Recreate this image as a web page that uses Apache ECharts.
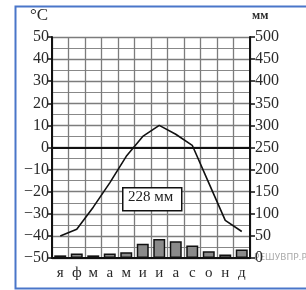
<!DOCTYPE html>
<html><head><meta charset="utf-8">
<script src="https://cdn.jsdelivr.net/npm/echarts@6/dist/echarts.min.js"></script>
<style>html,body{margin:0;padding:0;background:#fff}#c{width:306px;height:290px}</style>
</head><body><div id="c"></div>
<script>
const months = ['я','ф','м','а','м','и','и','а','с','о','н','д'];
const temperature = [-40, -37, -27, -16, -4, 5, 10, 6, 1, -16, -33, -38];
const precipitation = [6, 10, 6, 10, 13, 32, 43, 38, 28, 15, 8, 19];
const tempTicks = {min: -50, max: 50, step: 10};
const precTicks = {min: 0, max: 500, step: 50};
const totalLabel = '228 мм';

const serif = '"Liberation Serif", "DejaVu Serif", serif';
const chart = echarts.init(document.getElementById('c'), null, {renderer: 'canvas'});
chart.setOption({
  animation: false,
  backgroundColor: '#fff',
  grid: {left: 52, right: 56, top: 37, bottom: 32, containLabel: false},
  xAxis: {
    type: 'category', data: months, boundaryGap: true,
    axisLine: {show: true, onZero: false, lineStyle: {color: '#111', width: 2}},
    axisTick: {show: false},
    axisLabel: {fontFamily: serif, fontSize: 15, color: '#2a2a2a', margin: 8, interval: 0},
    splitLine: {show: true, interval: 0, lineStyle: {color: '#7c7c7c', width: 1.3}}
  },
  yAxis: [{
    type: 'value', min: tempTicks.min, max: tempTicks.max, interval: tempTicks.step,
    position: 'left',
    axisLine: {show: true, lineStyle: {color: '#111', width: 2}},
    axisTick: {show: true, length: 5, lineStyle: {color: '#111', width: 1.5}},
    axisLabel: {fontFamily: serif, fontSize: 16, color: '#2a2a2a', margin: 3,
      formatter: v => String(v).replace('-', '−')},
    splitLine: {show: true, lineStyle: {color: '#7c7c7c', width: 1.3}},
    minorTick: {show: false, splitNumber: 2},
    minorSplitLine: {show: true, lineStyle: {color: '#888', width: 1.2}}
  }, {
    type: 'value', min: precTicks.min, max: precTicks.max, interval: precTicks.step,
    position: 'right',
    axisLine: {show: true, lineStyle: {color: '#111', width: 2}},
    axisTick: {show: true, length: 5, lineStyle: {color: '#111', width: 1.5}},
    axisLabel: {fontFamily: serif, fontSize: 16, color: '#2a2a2a', margin: 5},
    splitLine: {show: false}
  }],
  series: [{
    type: 'bar', yAxisIndex: 1, data: precipitation, barWidth: 12,
    itemStyle: {color: '#8a8a8a', borderColor: '#111', borderWidth: 1.5},
    z: 2
  }, {
    type: 'line', yAxisIndex: 0, data: temperature, symbol: 'none',
    lineStyle: {color: '#111', width: 1.6},
    markLine: {silent: true, symbol: 'none', label: {show: false},
      lineStyle: {color: '#111', width: 2, type: 'solid'},
      data: [{yAxis: 0}]},
    z: 3
  }],
  graphic: [
    {type: 'rect', left: 13, top: 4, z: 100, shape: {width: 320, height: 282},
      style: {fill: 'none', stroke: '#4a76c9', lineWidth: 2}},
    {type: 'text', left: 30, top: 7, z: 100, style: {text: '°C', font: '17px ' + serif, fill: '#2a2a2a'}},
    {type: 'text', left: 252, top: 10, z: 100, style: {text: 'мм', font: 'bold 12px ' + serif, fill: '#2a2a2a'}},
    {type: 'rect', left: 122, top: 187, z: 100, shape: {width: 59, height: 23},
      style: {fill: '#fff', stroke: '#111', lineWidth: 1.5}},
    {type: 'text', left: 128, top: 190, z: 101, style: {text: totalLabel, font: '15px ' + serif, fill: '#222'}},
    {type: 'text', left: 254, top: 253, z: 0, style: {text: 'РЕШУВПР.РФ', font: '9px "DejaVu Sans", sans-serif', fill: '#aaa'}}
  ]
});
</script></body></html>
